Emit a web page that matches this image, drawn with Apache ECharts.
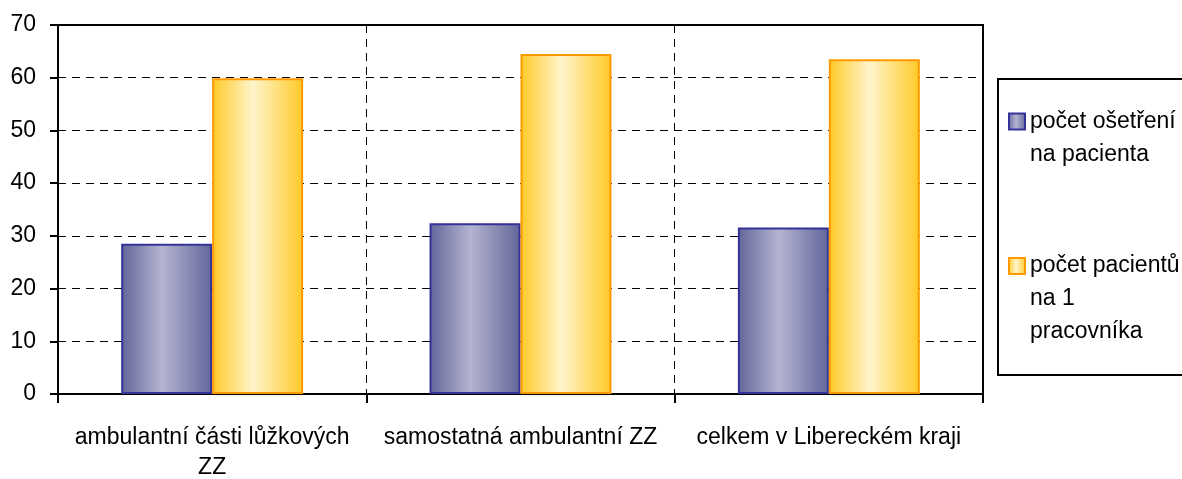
<!DOCTYPE html>
<html>
<head>
<meta charset="utf-8">
<script src="https://cdn.jsdelivr.net/npm/echarts@6/dist/echarts.min.js"></script>
<style>html,body{margin:0;padding:0;background:#fff;}#c{width:1182px;height:479px;}</style>
</head>
<body>
<div id="c"></div>
<script>
const categories = ['ambulantní části lůžkových\nZZ', 'samostatná ambulantní ZZ', 'celkem v Libereckém kraji'];
const seriesNames = ['počet ošetření na pacienta', 'počet pacientů na 1 pracovníka'];
const treatmentsPerPatient = [28.5, 32.4, 31.6];
const patientsPerWorker = [59.9, 64.5, 63.5];
const yTicks = [0, 10, 20, 30, 40, 50, 60, 70];

const FONT = "'Liberation Sans', Arial, sans-serif";
const FS = 23;
const chart = echarts.init(document.getElementById('c'), null, {renderer: 'canvas'});

function grad(edge, mid) {
  return new echarts.graphic.LinearGradient(0, 0, 1, 0, [
    {offset: 0, color: edge}, {offset: 0.45, color: mid}, {offset: 1, color: edge}
  ]);
}
const legendText = {
  [seriesNames[0]]: '\npočet ošetření\nna pacienta',
  [seriesNames[1]]: '\n\npočet pacientů\nna 1\npracovníka'
};
const legendCommon = {
  orient: 'vertical', left: 1008, padding: 0, itemWidth: 16, itemHeight: 16, itemGap: 0,
  selectedMode: false, icon: 'rect',
  formatter: n => legendText[n],
  textStyle: {fontFamily: FONT, fontSize: FS, color: '#000', lineHeight: 33}
};

chart.setOption({
  animation: false,
  grid: {left: 58, right: 199, top: 25, bottom: 85, outerBoundsMode: 'none', containLabel: false,
         show: true, borderColor: '#000', borderWidth: 2, backgroundColor: 'transparent'},
  graphic: [{type: 'rect', shape: {x: 998, y: 79, width: 200, height: 296}, style: {fill: 'none', stroke: '#000', lineWidth: 2}}],
  legend: [
    Object.assign({}, legendCommon, {data: [seriesNames[0]], top: 72}),
    Object.assign({}, legendCommon, {data: [seriesNames[1]], top: 183.5})
  ],
  xAxis: {
    type: 'category', data: categories,
    axisLine: {lineStyle: {color: '#000', width: 2}},
    axisTick: {show: true, length: 9, lineStyle: {color: '#000', width: 2}},
    axisLabel: {fontFamily: FONT, fontSize: FS, color: '#000', margin: 29, lineHeight: 30, interval: 0},
    splitLine: {show: true, lineStyle: {color: '#000', type: [8, 6], width: 1}}
  },
  yAxis: {
    type: 'value', min: yTicks[0], max: yTicks[yTicks.length - 1], interval: 10,
    axisLine: {show: true, lineStyle: {color: '#000', width: 2}},
    axisTick: {show: true, inside: false, length: 8, lineStyle: {color: '#000', width: 2}},
    axisLabel: {fontFamily: FONT, fontSize: FS, color: '#000', margin: 22},
    splitLine: {show: true, lineStyle: {color: '#000', type: [8, 6], width: 1}}
  },
  series: [
    {name: seriesNames[0], type: 'bar', data: treatmentsPerPatient, barWidth: '29.5%', barGap: '0%',
     itemStyle: {color: grad('#62669a', '#b4b4d0'), borderColor: '#333399', borderWidth: 2}},
    {name: seriesNames[1], type: 'bar', data: patientsPerWorker, barWidth: '29.5%', barGap: '0%',
     itemStyle: {color: grad('#ffc926', '#fff5cc'), borderColor: '#ff9900', borderWidth: 2}}
  ]
});
</script>
</body>
</html>
